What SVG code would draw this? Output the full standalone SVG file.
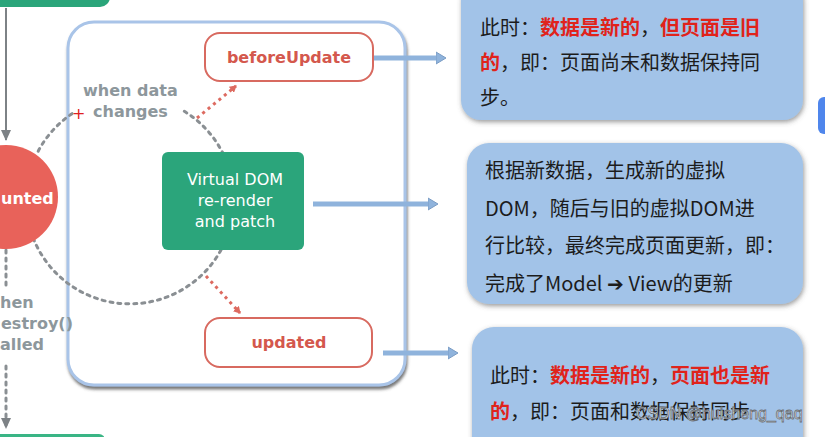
<svg xmlns="http://www.w3.org/2000/svg" width="825" height="437" viewBox="0 0 825 437">
<style>
.hook{fill:#fff;stroke:#d86a60;stroke-width:2;}
.hooktxt{font-family:"DejaVu Sans","Noto Sans",sans-serif;font-weight:bold;font-size:16px;fill:#d4584d;text-anchor:middle;}
.gray{font-family:"DejaVu Sans","Noto Sans",sans-serif;font-weight:bold;font-size:16px;fill:#8d979c;}
.dash{fill:none;stroke:#8a8f93;stroke-width:3;stroke-dasharray:3 5;stroke-linecap:round;}
.red-dot{fill:none;stroke:#dd6a60;stroke-width:3;stroke-dasharray:3 4;}
.info{fill:#a2c3e8;}
.cn{font-family:"Noto Sans CJK SC",sans-serif;font-size:20px;fill:#1c1c1c;}
.cnr{font-weight:bold;fill:#e0231b;}
.conn{stroke:#8fb3dc;stroke-width:5;fill:none;}
.vd{font-family:"DejaVu Sans","Noto Sans",sans-serif;font-size:16px;fill:#fff;text-anchor:middle;}
</style>
<defs>
<filter id="sh" x="-10%" y="-10%" width="120%" height="120%">
<feDropShadow dx="1" dy="2" stdDeviation="2.5" flood-color="#555" flood-opacity="0.6"/>
</filter>
<filter id="sh2" x="-10%" y="-10%" width="120%" height="120%">
<feDropShadow dx="1" dy="3" stdDeviation="1.5" flood-color="#555" flood-opacity="0.8"/>
</filter>
<marker id="ah" markerWidth="8" markerHeight="8" refX="6" refY="4" orient="auto" markerUnits="userSpaceOnUse">
<path d="M0,0 L7,4 L0,8 Z" fill="#dd6a60"/>
</marker>
<marker id="ag" markerWidth="12" markerHeight="10" refX="10" refY="5" orient="auto" markerUnits="userSpaceOnUse">
<path d="M0,0 L11,5 L0,10 Z" fill="#7d8286"/>
</marker>
<marker id="ab" markerWidth="14" markerHeight="14" refX="4" refY="7" orient="auto" markerUnits="userSpaceOnUse">
<path d="M0,1 L10,7 L0,13 Z" fill="#8fb3dc" stroke="#7a9cc4" stroke-width="1"/>
</marker>
</defs>
<rect width="825" height="437" fill="#fff"/>

<g id="top-green">
<rect x="-20" y="-30" width="130" height="37" rx="10" fill="#2aa57a"/>
</g>
<g id="bottom-green">
<rect x="-20" y="434" width="125" height="20" rx="6" fill="#3ab585"/>
</g>

<g id="container">
<rect x="68" y="22" width="337" height="363" rx="26" fill="#fff" stroke="#a9c4e8" stroke-width="3" filter="url(#sh2)"/>
</g>

<g id="connectors">
<line x1="6" y1="8" x2="6" y2="140" stroke="#7d8286" stroke-width="2" marker-end="url(#ag)"/>
<line x1="6" y1="250" x2="6" y2="288" class="dash" stroke-width="2"/>
<line x1="6" y1="366" x2="6" y2="428" class="dash" stroke-width="2" marker-end="url(#ag)"/>
<path class="dash" d="M38.2,151.2 A104,104 0 0 1 75.7,111.3"/>
<path class="dash" d="M184.3,111.3 A104,104 0 0 1 227.7,164.4"/>
<path class="dash" d="M221,250 A104,104 0 0 1 29.5,227"/>
<line class="red-dot" x1="197" y1="118" x2="236" y2="86" marker-end="url(#ah)"/>
<line class="red-dot" x1="206" y1="276" x2="240" y2="313" marker-end="url(#ah)"/>
<line class="conn" x1="373" y1="58" x2="440" y2="58" marker-end="url(#ab)"/>
<line class="conn" x1="313" y1="204" x2="432" y2="204" marker-end="url(#ab)"/>
<line class="conn" x1="383" y1="353" x2="452" y2="353" marker-end="url(#ab)"/>
</g>

<g id="mounted">
<circle cx="6" cy="197" r="52" fill="#e8625a"/>
<text x="1" y="204" font-family="DejaVu Sans, sans-serif" font-weight="bold" font-size="16" fill="#fff">unted</text>
</g>

<g id="destroy-label">
<text class="gray" x="0" y="308">hen</text>
<text class="gray" x="1" y="329">estroy()</text>
<text class="gray" x="0" y="350">alled</text>
</g>

<g id="when-data">
<text class="gray" x="83" y="96">when data</text>
<text class="gray" x="93" y="117">changes</text>
<text x="72" y="119" font-family="DejaVu Sans, sans-serif" font-size="16" fill="#e02020">+</text>
</g>

<g id="beforeUpdate">
<rect class="hook" x="205" y="33" width="168" height="48" rx="15"/>
<text class="hooktxt" x="289" y="63">beforeUpdate</text>
</g>

<g id="vdom">
<rect x="162" y="152" width="142" height="98" rx="6" fill="#2ba57b"/>
<text class="vd" x="235" y="185">Virtual DOM</text>
<text class="vd" x="235" y="206">re-render</text>
<text class="vd" x="235" y="227">and patch</text>
</g>

<g id="updated">
<rect class="hook" x="205" y="318" width="167" height="49" rx="15"/>
<text class="hooktxt" x="289" y="348">updated</text>
</g>

<g id="info1">
<rect class="info" x="461" y="-20" width="342" height="140" rx="20" filter="url(#sh)"/>
<text class="cn" x="480" y="35">此时：<tspan class="cnr">数据是新的</tspan>，<tspan class="cnr">但页面是旧</tspan></text>
<text class="cn" x="480" y="70"><tspan class="cnr">的</tspan>，即：页面尚末和数据保持同</text>
<text class="cn" x="480" y="105">步。</text>
</g>

<g id="info2">
<rect class="info" x="467" y="143" width="336" height="161" rx="22" filter="url(#sh)"/>
<text class="cn" x="485" y="178">根据新数据，生成新的虚拟</text>
<text class="cn" x="485" y="216">DOM，随后与旧的虚拟DOM进</text>
<text class="cn" x="485" y="253">行比较，最终完成页面更新，即：</text>
<text class="cn" x="485" y="291">完成了Model ➔ View的更新</text>
</g>

<g id="info3">
<rect class="info" x="472" y="327" width="331" height="140" rx="22" filter="url(#sh)"/>
<text class="cn" x="490" y="383">此时：<tspan class="cnr">数据是新的</tspan>，<tspan class="cnr">页面也是新</tspan></text>
<text class="cn" x="490" y="419"><tspan class="cnr">的</tspan>，即：页面和数据保持同步</text>
</g>

<g id="edge-tab">
<rect x="818" y="97" width="20" height="37" rx="6" fill="#4f86ec"/>
</g>

<text x="636" y="419" font-family="Liberation Sans, sans-serif" font-size="16" fill="#f4f6f8" stroke="#6a6f75" stroke-width="0.8">CSDN @huisheng_qaq</text>
</svg>
